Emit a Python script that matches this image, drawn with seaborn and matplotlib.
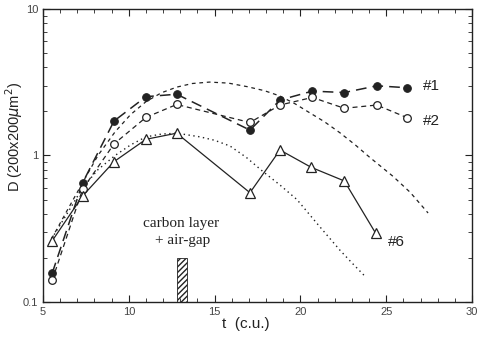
import numpy as np
import pandas as pd
import matplotlib
matplotlib.use("Agg")
import matplotlib.pyplot as plt
import seaborn as sns
from matplotlib.ticker import FixedLocator, NullFormatter, LogLocator

t1 = [5.54, 7.31, 9.14, 11.0, 12.79, 17.06, 18.81, 20.69, 22.56, 24.45, 26.23]
d1 = [0.158, 0.652, 1.72, 2.52, 2.62, 1.49, 2.39, 2.75, 2.69, 2.99, 2.90]

t2 = [5.54, 7.31, 9.14, 11.0, 12.79, 17.06, 18.81, 20.69, 22.56, 24.45, 26.23]
d2 = [0.141, 0.59, 1.20, 1.82, 2.23, 1.68, 2.21, 2.49, 2.10, 2.21, 1.81]

t6 = [5.54, 7.31, 9.14, 11.0, 12.79, 17.06, 18.81, 20.63, 22.56, 24.39]
d6 = [0.262, 0.53, 0.908, 1.29, 1.42, 0.557, 1.09, 0.83, 0.67, 0.294]

# model curves
tm_a = [5.5, 6.4, 7.3, 8.2, 9.2, 10.1, 11.0, 11.9, 12.8, 13.7, 14.7, 15.8, 16.9, 17.9,
        18.8, 19.7, 20.5, 21.4, 22.3, 23.2, 24.0, 24.7, 25.4, 26.4, 27.44]
dm_a = [0.27, 0.42, 0.65, 1.0, 1.45, 1.9, 2.33, 2.68, 2.93, 3.10, 3.17, 3.12, 2.95, 2.77,
        2.55, 2.25, 1.97, 1.70, 1.43, 1.18, 0.98, 0.84, 0.72, 0.56, 0.405]

tm_b = [5.5, 6.4, 7.3, 8.2, 9.2, 10.1, 11.0, 11.9, 12.8, 14.15, 15.0, 15.9, 16.85, 17.8,
        18.8, 19.8, 21.0, 22.3, 23.0, 23.76]
dm_b = [0.27, 0.40, 0.60, 0.80, 1.0, 1.18, 1.34, 1.40, 1.42, 1.34, 1.27, 1.16, 0.97, 0.78,
        0.63, 0.50, 0.34, 0.226, 0.185, 0.150]

# carbon layer + air-gap marker
gap_t = [13.1]
gap_w = [0.62]
gap_top = [0.20]

ink = "#222222"

sns.set_style("ticks")
plt.rcParams['font.family'] = ['Liberation Sans', 'DejaVu Sans']

fig = plt.figure(figsize=(4.91, 3.42), dpi=100)
ax = fig.add_axes([0.0876, 0.117, 0.8737, 0.8567])
ax.set_yscale('log')

sns.lineplot(x=tm_a, y=dm_a, ax=ax, color=ink, lw=0.9, linestyle=(0, (3, 3)))
sns.lineplot(x=tm_b, y=dm_b, ax=ax, color=ink, lw=1.0, linestyle=(0, (1, 2.5)))

sns.lineplot(x=t1, y=d1, ax=ax, color=ink, lw=1.1, linestyle=(0, (7, 4)),
             marker='o', markersize=5.5, markerfacecolor=ink, markeredgecolor=ink)
sns.lineplot(x=t2, y=d2, ax=ax, color=ink, lw=0.9, linestyle=(0, (4, 3)),
             marker='o', markersize=5.5, markerfacecolor='white', markeredgecolor=ink,
             markeredgewidth=0.9)
sns.lineplot(x=t6, y=d6, ax=ax, color=ink, lw=0.9, linestyle='-',
             marker='^', markersize=6.5, markerfacecolor='white', markeredgecolor=ink,
             markeredgewidth=0.9)

ax.bar(gap_t, [g - 0.1 for g in gap_top], bottom=0.1, width=gap_w, fill=False,
       hatch='//////', edgecolor=ink, linewidth=0.6)

ax.text(27.15, 3.0, '#1', fontsize=11, color=ink, va='center')
ax.text(27.15, 1.72, '#2', fontsize=11, color=ink, va='center')
ax.text(25.1, 0.258, '#6', fontsize=11, color=ink, va='center')
ax.text(13.05, 0.345, 'carbon layer', fontsize=11, color=ink, ha='center', va='center',
        family=['Liberation Serif', 'DejaVu Serif'])
ax.text(13.15, 0.263, '+ air-gap', fontsize=11, color=ink, ha='center', va='center',
        family=['Liberation Serif', 'DejaVu Serif'])

ax.set_xlim(5, 30)
ax.set_ylim(0.1, 10)
ax.xaxis.set_major_locator(FixedLocator([5, 10, 15, 20, 25, 30]))
ax.xaxis.set_minor_locator(FixedLocator(np.arange(5, 31, 1)))
ax.yaxis.set_major_locator(FixedLocator([0.1, 1, 10]))
ax.yaxis.set_minor_locator(LogLocator(base=10, subs=np.arange(2, 10)))
ax.yaxis.set_minor_formatter(NullFormatter())
ax.set_yticklabels(['0.1', '1', '10'])
ax.tick_params(which='both', direction='in', top=True, right=True, colors=ink,
               labelsize=8, labelcolor='#444444')
ax.tick_params(which='major', length=5, width=0.8)
ax.tick_params(which='minor', length=3, width=0.6)
for s in ax.spines.values():
    s.set_color(ink)
    s.set_linewidth(1.0)

ax.set_xlabel('t  (c.u.)', fontsize=11, color=ink)
ax.set_ylabel(r'D (200x200$\mu$m$^2$)', fontsize=10.5, color=ink)
ax.xaxis.set_label_coords(0.473, -0.05)
ax.yaxis.set_label_coords(-0.042, 0.563)

fig.savefig('out.png', dpi=100)
